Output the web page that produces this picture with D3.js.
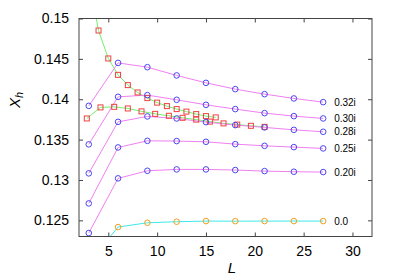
<!DOCTYPE html>
<html>
<head>
  <script src="https://d3js.org/d3.v7.min.js"></script>
  <style>
    body { margin: 0; background: #fff; }
  </style>
</head>
<body>
  <svg id="chart" width="400" height="280"></svg>
  <script>
    // blue circle series (imaginary parts)
    const Ls = [3, 6, 9, 12, 15, 18, 21, 24, 27];
    const seriesNames = ["0.32i", "0.30i", "0.28i", "0.25i", "0.20i"];
    const s032 = [0.13918, 0.1445, 0.14397, 0.14295, 0.14203, 0.14125, 0.14063, 0.1401, 0.13964];
    const s030 = [0.13441, 0.1403, 0.14051, 0.13993, 0.13931, 0.13878, 0.13828, 0.13791, 0.13762];
    const s028 = [0.13082, 0.1372, 0.13787, 0.13762, 0.13717, 0.1368, 0.13651, 0.13621, 0.13597];
    const s025 = [0.1271, 0.13403, 0.13485, 0.13482, 0.13473, 0.13444, 0.13423, 0.13407, 0.13391];
    const s020 = [0.12343, 0.1302, 0.13114, 0.13131, 0.13131, 0.13123, 0.1311, 0.13102, 0.13098];
    // real case
    const s00 = [0.1198, 0.12417, 0.1247, 0.12483, 0.12491, 0.1249, 0.12491, 0.12491, 0.12491];
    // red squares, two sequences
    const LsA = [3, 4, 5, 6, 7, 8, 9, 10, 11, 12, 13, 14, 15, 16];
    const sqA = [0.155, 0.14851, 0.14505, 0.14302, 0.14175, 0.14084, 0.14014, 0.13958, 0.13915, 0.13878, 0.13847, 0.13816, 0.13791, 0.13775];
    const LsB = [2.8, 4.2, 5.6, 7.0, 8.4, 9.8, 11.2, 12.6, 14.0, 15.4, 16.8, 18.2, 19.6, 21.0];
    const sqB = [0.13762, 0.13899, 0.13906, 0.13886, 0.1385, 0.13819, 0.13795, 0.1377, 0.13748, 0.13723, 0.13701, 0.13686, 0.13671, 0.13658];
    const xTicks = [5, 10, 15, 20, 25, 30];
    const yTicks = [0.125, 0.13, 0.135, 0.14, 0.145, 0.15];

    const font = "Liberation Sans, Arial, sans-serif";
    const svg = d3.select('svg#chart');
    const margins = { top: 18.5, right: 28, bottom: 43.5, left: 79 };
    const chartWidth = 400 - margins.left - margins.right;
    const chartHeight = 280 - margins.top - margins.bottom;
    const xScale = d3.scaleLinear().domain([2, 32]).range([0, chartWidth]);
    const yScale = d3.scaleLinear().domain([0.123, 0.15]).range([chartHeight, 0]);

    svg.append('defs').append('clipPath').attr('id', 'clip')
      .append('rect').attr('width', chartWidth).attr('height', chartHeight);

    const g = svg.append('g').attr('transform', `translate(${margins.left},${margins.top})`);
    const plot = g.append('g').attr('clip-path', 'url(#clip)');

    const line = d3.line().x(d => xScale(d[0])).y(d => yScale(d[1]));
    const zip = (xs, ys) => xs.map((x, i) => [x, ys[i]]);

    // green lines
    [[LsA, sqA], [LsB, sqB]].forEach(([xs, ys]) => {
      plot.append('path').datum(zip(xs, ys))
        .attr('d', line).attr('fill', 'none').attr('stroke', '#70f070').attr('stroke-width', 1);
    });

    // cyan line for 0.0
    plot.append('path').datum(zip(Ls, s00))
      .attr('d', line).attr('fill', 'none').attr('stroke', '#40e8e8').attr('stroke-width', 1);

    const blue = [s032, s030, s028, s025, s020];
    blue.forEach(ys => {
      plot.append('path').datum(zip(Ls, ys))
        .attr('d', line).attr('fill', 'none').attr('stroke', '#f080f0').attr('stroke-width', 1);
    });

    [[LsA, sqA], [LsB, sqB]].forEach(([xs, ys]) => {
      plot.selectAll(null).data(zip(xs, ys)).join('rect')
        .attr('x', d => xScale(d[0]) - 2.5).attr('y', d => yScale(d[1]) - 2.5)
        .attr('width', 5).attr('height', 5)
        .attr('fill', 'none').attr('stroke', '#f04040').attr('stroke-width', 1);
    });

    blue.forEach(ys => {
      plot.selectAll(null).data(zip(Ls, ys)).join('circle')
        .attr('cx', d => xScale(d[0])).attr('cy', d => yScale(d[1])).attr('r', 2.8)
        .attr('fill', 'none').attr('stroke', '#4848f0').attr('stroke-width', 1);
    });
    plot.selectAll(null).data(zip(Ls, s00)).join('circle')
      .attr('cx', d => xScale(d[0])).attr('cy', d => yScale(d[1])).attr('r', 2.8)
      .attr('fill', 'none').attr('stroke', '#f0a020').attr('stroke-width', 1);

    // series labels
    const labels = seriesNames.concat(["0.0"]);
    [...blue, s00].forEach((ys, i) => {
      const n = Ls.length - 1;
      g.append('text')
        .attr('x', xScale(Ls[n]) + 11).attr('y', yScale(ys[n]) + 3.5)
        .attr('font-family', font).attr('font-size', 10).text(labels[i]);
    });

    // axes (gnuplot style ticks, inward, mirrored)
    const axisColor = '#444';
    const axBottom = g.append('g').attr('transform', `translate(0,${chartHeight})`)
      .call(d3.axisBottom(xScale).tickValues(xTicks).tickSize(-4).tickPadding(10));
    const axTop = g.append('g')
      .call(d3.axisTop(xScale).tickValues(xTicks).tickSize(-4).tickFormat(''));
    const axLeft = g.append('g')
      .call(d3.axisLeft(yScale).tickValues(yTicks).tickSize(-4).tickPadding(10).tickFormat(d3.format('')));
    const axRight = g.append('g').attr('transform', `translate(${chartWidth},0)`)
      .call(d3.axisRight(yScale).tickValues(yTicks).tickSize(-4).tickFormat(''));
    [axBottom, axTop, axLeft, axRight].forEach(a => {
      a.attr('font-family', font).attr('font-size', 14);
      a.select('.domain').remove();
      a.selectAll('line').attr('stroke', axisColor);
      a.selectAll('text').attr('fill', '#000');
    });
    g.append('rect').attr('width', chartWidth).attr('height', chartHeight)
      .attr('fill', 'none').attr('stroke', axisColor).attr('stroke-width', 1);

    // axis titles
    svg.append('text')
      .attr('x', 232).attr('y', 273)
      .attr('font-family', font).attr('font-size', 15).attr('font-style', 'italic')
      .attr('text-anchor', 'middle').text('L');
    const yl = svg.append('text')
      .attr('transform', 'translate(20,100) rotate(-90)')
      .attr('text-anchor', 'middle')
      .attr('font-family', font).attr('font-size', 15).attr('font-style', 'italic');
    yl.append('tspan').text('X');
    yl.append('tspan').attr('dy', 3).attr('font-size', 11).text('h');
  </script>
</body>
</html>
